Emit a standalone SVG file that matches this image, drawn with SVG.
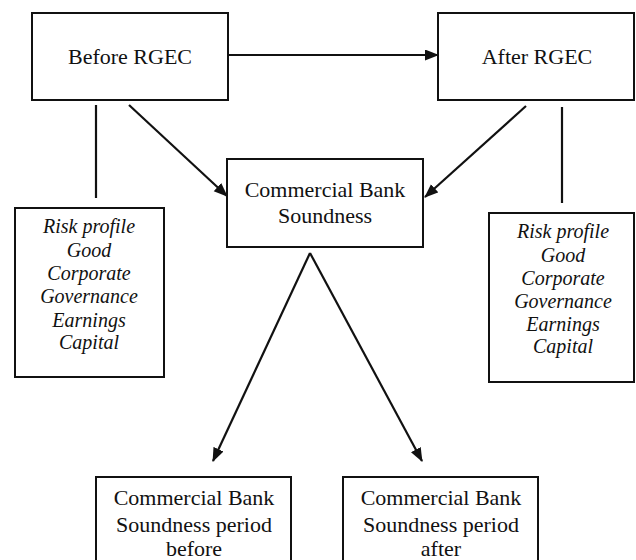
<svg xmlns="http://www.w3.org/2000/svg" width="636" height="560" viewBox="0 0 636 560">
<style>
.box{fill:#fff;stroke:#111;stroke-width:2}
.t{font-family:'Liberation Serif',Tinos,'Times New Roman',Times,'DejaVu Serif',serif;font-size:22px;fill:#111;text-anchor:middle}
.i{font-family:'Liberation Serif',Tinos,'Times New Roman',Times,'DejaVu Serif',serif;font-size:20px;font-style:italic;fill:#111;text-anchor:middle}
.c{stroke:#111;stroke-width:2.2;fill:none}
</style>
<defs>
<marker id="ah" markerUnits="userSpaceOnUse" markerWidth="14" markerHeight="12" refX="13" refY="5.5" orient="auto">
<path d="M0,0 L14,5.5 L0,11 z" fill="#111"/>
</marker>
</defs>
<rect width="636" height="560" fill="#fff"/>
<g id="connectors">
<line class="c" x1="228" y1="55" x2="438" y2="55" marker-end="url(#ah)"/>
<line class="c" x1="129" y1="105" x2="227" y2="196" marker-end="url(#ah)"/>
<line class="c" x1="526" y1="106" x2="425" y2="197" marker-end="url(#ah)"/>
<line class="c" x1="96" y1="105" x2="96" y2="198"/>
<line class="c" x1="562" y1="107" x2="562" y2="203"/>
<line class="c" x1="310" y1="253" x2="213" y2="461" marker-end="url(#ah)"/>
<line class="c" x1="310" y1="253" x2="422" y2="461" marker-end="url(#ah)"/>
</g>
<g id="before">
<rect class="box" x="32" y="13" width="196" height="87"/>
<text class="t" x="130" y="64">Before RGEC</text>
</g>
<g id="after">
<rect class="box" x="438" y="13" width="196" height="87"/>
<text class="t" x="537" y="64">After RGEC</text>
</g>
<g id="soundness">
<rect class="box" x="227" y="159" width="196" height="88"/>
<text class="t" x="325" y="197">Commercial Bank</text>
<text class="t" x="325" y="223">Soundness</text>
</g>
<g id="left-criteria">
<rect class="box" x="15" y="208" width="149" height="169"/>
<text class="i" x="89" y="233">Risk profile</text>
<text class="i" x="89" y="257">Good</text>
<text class="i" x="89" y="280">Corporate</text>
<text class="i" x="89" y="303">Governance</text>
<text class="i" x="89" y="327">Earnings</text>
<text class="i" x="89" y="349">Capital</text>
</g>
<g id="right-criteria">
<rect class="box" x="489" y="213" width="145" height="169"/>
<text class="i" x="563" y="238">Risk profile</text>
<text class="i" x="563" y="262">Good</text>
<text class="i" x="563" y="285">Corporate</text>
<text class="i" x="563" y="308">Governance</text>
<text class="i" x="563" y="331">Earnings</text>
<text class="i" x="563" y="353">Capital</text>
</g>
<g id="period-before">
<rect class="box" x="96" y="477" width="195" height="100"/>
<text class="t" x="194" y="505">Commercial Bank</text>
<text class="t" x="194" y="532">Soundness period</text>
<text class="t" x="194" y="556">before</text>
</g>
<g id="period-after">
<rect class="box" x="343" y="477" width="195" height="100"/>
<text class="t" x="441" y="505">Commercial Bank</text>
<text class="t" x="441" y="532">Soundness period</text>
<text class="t" x="441" y="556">after</text>
</g>
</svg>
